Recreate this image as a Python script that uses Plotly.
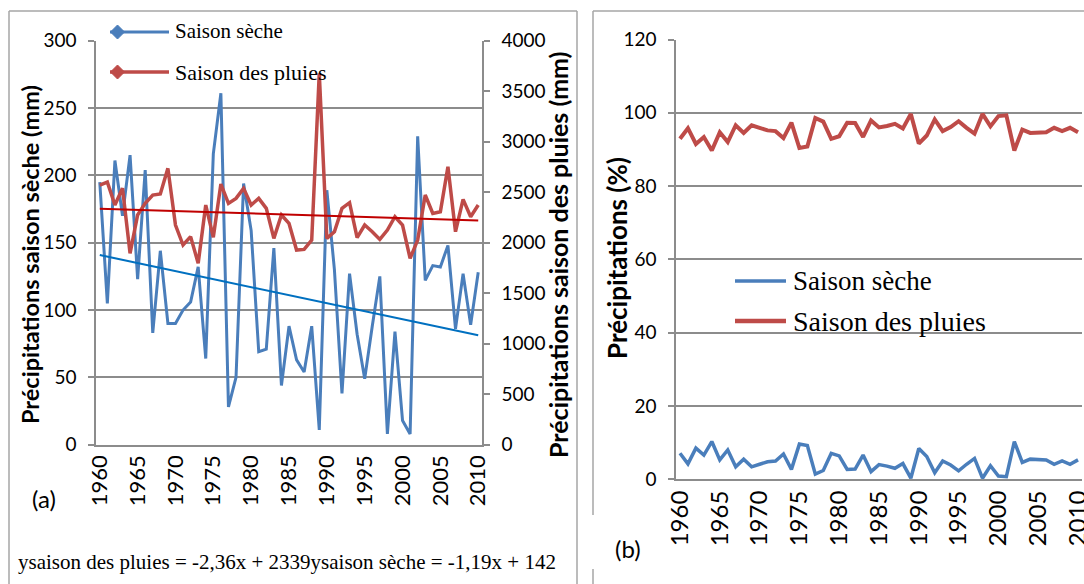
import plotly.graph_objects as go

# ---------------- data ----------------
years = list(range(1960, 2011))
x_ticks = list(range(1960, 2011, 5))

dry_mm = [195, 105, 211, 170, 215, 123, 204, 83, 144, 90, 90, 100, 106, 132, 64, 216, 261,
          28, 50, 194, 159, 69, 71, 146, 44, 88, 63, 54, 88, 11, 189, 130, 38, 127, 82, 49,
          88, 125, 8, 84, 18, 8, 229, 122, 133, 132, 148, 86, 127, 89, 128]
rain_mm = [2570, 2600, 2373, 2540, 1895, 2274, 2389, 2472, 2482, 2736, 2175, 1977, 2060,
           1796, 2373, 2053, 2581, 2389, 2439, 2538, 2373, 2439, 2340, 2043, 2274, 2191,
           1927, 1934, 2026, 3676, 2043, 2109, 2340, 2396, 2050, 2175, 2109, 2033, 2125,
           2257, 2175, 1845, 2026, 2472, 2290, 2307, 2752, 2109, 2429, 2257, 2373]
dry_pct = [7.1, 4.2, 8.5, 6.6, 10.3, 5.3, 8.0, 3.4, 5.5, 3.4, 4.1, 4.8, 5.0, 6.9, 2.7, 9.6,
           9.2, 1.4, 2.4, 7.1, 6.4, 2.7, 2.8, 6.6, 2.1, 4.0, 3.6, 3.0, 4.3, 0.3, 8.4, 6.2,
           1.8, 5.0, 3.9, 2.3, 4.1, 5.7, 0.3, 3.7, 0.9, 0.7, 10.3, 4.6, 5.5, 5.5, 5.3, 4.1,
           5.0, 4.1, 5.3]
rain_pct = [92.9, 95.8, 91.5, 93.4, 89.7, 94.7, 92.0, 96.6, 94.5, 96.6, 95.9, 95.2, 95.0,
            93.1, 97.3, 90.4, 90.8, 98.6, 97.6, 92.9, 93.6, 97.3, 97.2, 93.4, 97.9, 96.0,
            96.4, 97.0, 95.7, 99.7, 91.6, 93.8, 98.2, 95.0, 96.1, 97.7, 95.9, 94.3, 99.7,
            96.3, 99.1, 99.3, 89.7, 95.4, 94.5, 94.5, 94.7, 95.9, 95.0, 95.9, 94.7]

# trend equations shown on the chart (x = 1..51)
trend_rain = (-2.36, 2339)
trend_dry = (-1.19, 142)

names = ["Saison sèche", "Saison des pluies"]
equation_text = "ysaison des pluies = -2,36x + 2339ysaison sèche = -1,19x + 142"

# ---------------- style ----------------
W, H = 1084, 584
BLUE = "#4A7EBB"
RED = "#BE4B48"
TBLUE = "#0070C0"
TRED = "#C00000"
GRID = "#8C8C8C"
FRAME = "#A6A6A6"
TICKFONT = "Lato"
SERIF = "Liberation Serif"


def px(x):
    return x / W


def py(y):
    return 1 - y / H


trend_x = [years[0], years[-1]]
rain_trend_y = [trend_rain[1] + trend_rain[0] * (years.index(v) + 1) for v in trend_x]
dry_trend_y = [trend_dry[1] + trend_dry[0] * (years.index(v) + 1) for v in trend_x]

fig = go.Figure()

# panel (a)
fig.add_trace(go.Scatter(x=years, y=rain_mm, mode="lines", line=dict(color=RED, width=3.5),
                         xaxis="x", yaxis="y2", showlegend=False))
fig.add_trace(go.Scatter(x=years, y=dry_mm, mode="lines", line=dict(color=BLUE, width=3),
                         xaxis="x", yaxis="y", showlegend=False))
fig.add_trace(go.Scatter(x=trend_x, y=dry_trend_y, mode="lines", line=dict(color=TBLUE, width=2),
                         xaxis="x", yaxis="y", showlegend=False))
fig.add_trace(go.Scatter(x=trend_x, y=rain_trend_y, mode="lines", line=dict(color=TRED, width=2),
                         xaxis="x", yaxis="y2", showlegend=False))

# panel (b)
fig.add_trace(go.Scatter(x=years, y=rain_pct, mode="lines", line=dict(color=RED, width=4),
                         xaxis="x2", yaxis="y3", showlegend=False))
fig.add_trace(go.Scatter(x=years, y=dry_pct, mode="lines", line=dict(color=BLUE, width=3.5),
                         xaxis="x2", yaxis="y3", showlegend=False))

tick_font = dict(family=TICKFONT, size=19, color="#000")
xtick_font = dict(family=TICKFONT, size=22, color="#000")

common_y = dict(showline=True, linecolor=GRID, linewidth=1.5, ticks="outside", ticklen=6,
                tickcolor=GRID, tickwidth=1.5, zeroline=False, tickfont=tick_font, automargin=False)
common_x = dict(showline=True, linecolor=GRID, linewidth=1.5, showgrid=False, zeroline=False,
                tickmode="array", tickvals=x_ticks, ticktext=[str(v) for v in x_ticks],
                tickangle=-90, ticks="", range=[1959.5, 2010.5], tickfont=xtick_font,
                automargin=False, ticklabeloverflow="allow")

fig.update_layout(
    width=W, height=H, autosize=False,
    margin=dict(l=0, r=0, t=0, b=0, pad=0, autoexpand=False),
    paper_bgcolor="white", plot_bgcolor="white",
    showlegend=False,
    xaxis=dict(domain=[px(96), px(482)], anchor="y", **common_x),
    yaxis=dict(domain=[py(444.7), py(40.7)], anchor="x", range=[0, 300], dtick=50,
               showgrid=True, gridcolor=GRID, gridwidth=1.5, ticklabelstandoff=8, **common_y),
    yaxis2=dict(domain=[py(444.7), py(40.7)], anchor="x", overlaying="y", side="right",
                range=[0, 4000], dtick=500, showgrid=False, ticklabelstandoff=8, **common_y),
    xaxis2=dict(domain=[px(676), px(1082)], anchor="y3", **common_x),
    yaxis3=dict(domain=[py(479.3), py(39.5)], anchor="x2", range=[0, 120], dtick=20,
                showgrid=True, gridcolor=GRID, gridwidth=1.5, ticklabelstandoff=8, **common_y),
)
fig.update_layout(xaxis2=dict(tickfont=dict(family=TICKFONT, size=24, color="#000")))

shapes = []
# panel frames
shapes.append(dict(type="line", xref="paper", yref="paper", x0=px(9), x1=px(9), y0=py(11), y1=py(590),
                   line=dict(color=FRAME, width=1.5)))
shapes.append(dict(type="line", xref="paper", yref="paper", x0=px(9), x1=px(577), y0=py(11), y1=py(11),
                   line=dict(color=FRAME, width=1.5)))
shapes.append(dict(type="line", xref="paper", yref="paper", x0=px(577), x1=px(577), y0=py(11), y1=py(590),
                   line=dict(color=FRAME, width=1.5)))
shapes.append(dict(type="line", xref="paper", yref="paper", x0=px(593), x1=px(1090), y0=py(11), y1=py(11),
                   line=dict(color=FRAME, width=1.5)))
shapes.append(dict(type="line", xref="paper", yref="paper", x0=px(593), x1=px(593), y0=py(11), y1=py(515),
                   line=dict(color=FRAME, width=1.5)))
shapes.append(dict(type="line", xref="paper", yref="paper", x0=px(593), x1=px(593), y0=py(569), y1=py(590),
                   line=dict(color=FRAME, width=1.5)))


def diamond(cx, cy, r, color):
    return dict(type="path", xref="paper", yref="paper",
                path=f"M {px(cx - r)} {py(cy)} L {px(cx)} {py(cy - r)} L {px(cx + r)} {py(cy)} "
                     f"L {px(cx)} {py(cy + r)} Z",
                fillcolor=color, line=dict(color=color, width=1))


# legend panel (a)
for (yy, col, wd) in [(32, BLUE, 3), (72, RED, 3.5)]:
    shapes.append(dict(type="line", xref="paper", yref="paper", x0=px(110), x1=px(169), y0=py(yy), y1=py(yy),
                       line=dict(color=col, width=wd)))
    shapes.append(diamond(117.5, yy, 7, col))
# legend panel (b)
for (yy, col, wd) in [(281, BLUE, 3.5), (321, RED, 4.5)]:
    shapes.append(dict(type="line", xref="paper", yref="paper", x0=px(735), x1=px(786), y0=py(yy), y1=py(yy),
                       line=dict(color=col, width=wd)))
fig.update_layout(shapes=shapes)

ann = []
ann.append(dict(text=names[0], x=px(173), y=py(31), xanchor="left", yanchor="middle",
                font=dict(family=SERIF, size=21, color="#000")))
ann.append(dict(text=names[1], x=px(173), y=py(72), xanchor="left", yanchor="middle",
                font=dict(family=SERIF, size=22, color="#000")))
ann.append(dict(text=names[0], x=px(791), y=py(281), xanchor="left", yanchor="middle",
                font=dict(family=SERIF, size=27, color="#000")))
ann.append(dict(text=names[1], x=px(791), y=py(321), xanchor="left", yanchor="middle",
                font=dict(family=SERIF, size=28, color="#000")))
ann.append(dict(text=equation_text, x=px(16), y=py(562), xanchor="left", yanchor="middle",
                font=dict(family=SERIF, size=21, color="#000")))
ann.append(dict(text="Précipitations saison sèche (mm)", x=px(30), y=py(255), textangle=-90,
                xanchor="center", yanchor="middle", font=dict(family=TICKFONT, size=23.5, color="#000", weight="bold")))
ann.append(dict(text="Précipitations saison des pluies (mm)", x=px(558), y=py(255), textangle=-90,
                xanchor="center", yanchor="middle", font=dict(family=TICKFONT, size=25, color="#000", weight="bold")))
ann.append(dict(text="Précipitations (%)", x=px(617), y=py(258), textangle=-90,
                xanchor="center", yanchor="middle", font=dict(family=TICKFONT, size=26, color="#000", weight="bold")))
ann.append(dict(text="(a)", x=px(44), y=py(498), xanchor="center", yanchor="middle",
                font=dict(family=TICKFONT, size=24, color="#000")))
ann.append(dict(text="(b)", x=px(628), y=py(548), xanchor="center", yanchor="middle",
                font=dict(family=TICKFONT, size=24, color="#000")))
for a in ann:
    a.update(xref="paper", yref="paper", showarrow=False)
fig.update_layout(annotations=ann)

fig.write_html("out.html")
